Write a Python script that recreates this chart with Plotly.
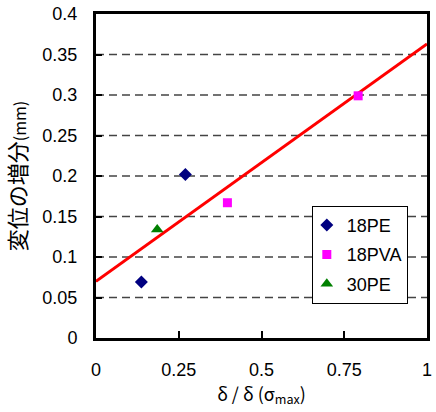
import plotly.graph_objects as go

pe18_x = [0.137, 0.270]
pe18_y = [0.069, 0.202]
pva18_x = [0.397, 0.792]
pva18_y = [0.167, 0.299]
pe30_x = [0.185]
pe30_y = [0.134]
fit_x = [0.0, 1.0]
fit_y = [0.070, 0.363]
y_ticks = [0, 0.05, 0.1, 0.15, 0.2, 0.25, 0.3, 0.35, 0.4]
y_tick_text = ["0", "0.05", "0.1", "0.15", "0.2", "0.25", "0.3", "0.35", "0.4"]
x_ticks = [0, 0.25, 0.5, 0.75, 1]
x_tick_text = ["0", "0.25", "0.5", "0.75", "1"]
grid_levels = [0.05, 0.1, 0.15, 0.2, 0.25, 0.3, 0.35]

fig = go.Figure()
for g in grid_levels:
    fig.add_shape(type="line", xref="x", yref="y", x0=0, x1=1, y0=g, y1=g,
                  line=dict(color="#444444", width=1.3, dash="8px,5px"), layer="below")

fig.add_trace(go.Scatter(x=fit_x, y=fit_y, mode="lines", line=dict(color="#ff0000", width=3),
                         showlegend=False, hoverinfo="skip"))
fig.add_trace(go.Scatter(x=pe18_x, y=pe18_y, mode="markers", name="18PE", legendgroup="a",
                         marker=dict(symbol="diamond", color="#000080", size=10)))
fig.add_trace(go.Scatter(x=pva18_x, y=pva18_y, mode="markers", name="18PVA", legendgroup="b",
                         marker=dict(symbol="square", color="#ff00ff", size=9)))
fig.add_trace(go.Scatter(x=pe30_x, y=pe30_y, mode="markers", name="30PE", legendgroup="c",
                         marker=dict(symbol="triangle-up", color="#008000", size=11)))

fig.update_layout(
    width=436, height=412,
    margin=dict(l=96, r=4, t=12, b=74),
    plot_bgcolor="white", paper_bgcolor="white",
    font=dict(family="Liberation Sans, Arial, sans-serif", size=18, color="black"),
    legend=dict(x=0.652, y=0.408, xanchor="left", yanchor="top",
                bgcolor="white", bordercolor="black", borderwidth=1,
                font=dict(size=18), itemwidth=30, tracegroupgap=3,
                indentation=-6),
)
fig.update_xaxes(range=[0, 1], tickvals=x_ticks, ticktext=x_tick_text,
                 showgrid=False, zeroline=False,
                 showline=True, linecolor="black", linewidth=3, mirror=True,
                 ticks="inside", ticklen=7, tickwidth=2, tickcolor="black",
                 ticklabelstandoff=13,
                 title=dict(text="δ / δ (σ<sub>max</sub>)", standoff=6,
                            font=dict(family="Noto Sans CJK JP", size=18)))
fig.update_yaxes(range=[0, 0.4], tickvals=y_ticks, ticktext=y_tick_text,
                 showgrid=False, zeroline=False,
                 showline=True, linecolor="black", linewidth=3, mirror=True,
                 ticks="inside", ticklen=6, tickwidth=2, tickcolor="black",
                 ticklabelstandoff=12,
                 title=dict(text="変位の増分<span style='font-size:16px'>(mm)</span>", standoff=11,
                            font=dict(family="Noto Sans CJK JP", size=22)))

fig.write_html("out.html")
